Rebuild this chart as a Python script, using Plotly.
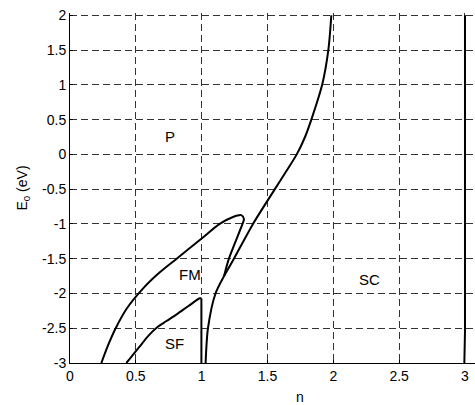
import plotly.graph_objects as go

# FM boundary: left branch rising to a peak, then the short branch turning back down
fm_n = [0.238, 0.288, 0.347, 0.43, 0.554, 0.68, 0.81, 1.0, 1.137, 1.238, 1.301, 1.321, 1.31, 1.207, 1.17]
fm_E = [-3.0, -2.75, -2.5, -2.22, -1.93, -1.7, -1.5, -1.21, -1.0, -0.9, -0.874, -0.93, -1.0, -1.5, -1.75]

# SF boundary
sf_n = [0.428, 0.53, 0.6, 0.66, 0.73, 0.81, 0.9, 0.985, 0.998]
sf_E = [-3.0, -2.76, -2.6, -2.49, -2.4, -2.3, -2.18, -2.07, -2.07]
sf_wall_n = [0.998, 0.998]
sf_wall_E = [-2.07, -3.0]

# SC boundary
sc_n = [1.03, 1.048, 1.105, 1.17, 1.245, 1.39, 1.556, 1.64, 1.722, 1.785, 1.833, 1.915, 1.962, 1.985]
sc_E = [-3.0, -2.5, -2.0, -1.75, -1.5, -1.0, -0.5, -0.25, 0.0, 0.25, 0.5, 1.0, 1.5, 2.0]

# right boundary at n = 3
rb_n = [2.995, 3.0, 3.0]
rb_E = [-3.0, -2.55, 2.0]

x_ticks = [0, 0.5, 1, 1.5, 2, 2.5, 3]
x_ticktext = ["0", "0.5", "1", "1.5", "2", "2.5", "3"]
y_ticks = [-3, -2.5, -2, -1.5, -1, -0.5, 0, 0.5, 1, 1.5, 2]
y_ticktext = ["-3", "-2.5", "-2", "-1.5", "-1", "-0.5", "0", "0.5", "1", "1.5", "2"]

labels = ["P", "FM", "SF", "SC"]
label_n = [0.757, 0.914, 0.795, 2.276]
label_E = [0.26, -1.73, -2.72, -1.8]

FONT = "Liberation Sans, Arial"
fig = go.Figure()
for xs, ys, shp in [(fm_n, fm_E, "spline"), (sf_n, sf_E, "spline"), (sf_wall_n, sf_wall_E, "linear"),
                    (sc_n, sc_E, "spline"), (rb_n, rb_E, "linear")]:
    fig.add_trace(go.Scatter(x=xs, y=ys, mode="lines",
                             line=dict(color="black", width=2, shape=shp, smoothing=0.8),
                             showlegend=False, hoverinfo="skip", cliponaxis=True))

for t, xv, yv in zip(labels, label_n, label_E):
    fig.add_annotation(x=xv, y=yv, text=t, showarrow=False,
                       font=dict(size=15, color="black", family=FONT))

fig.add_annotation(x=1.75, y=0, yref="paper", xref="x", text="n", showarrow=False,
                   yshift=-34, yanchor="middle",
                   font=dict(size=14, color="black", family=FONT))

axis_common = dict(showgrid=True, gridcolor="#333333", griddash="7px,4px", gridwidth=1,
                   showline=True, linecolor="black", linewidth=1,
                   ticks="inside", ticklen=3, tickcolor="black",
                   zeroline=False, mirror=False, automargin=False,
                   tickfont=dict(size=14, color="black", family=FONT))

fig.update_layout(
    width=475, height=405,
    margin=dict(l=70, r=0, t=12.6, b=42),
    plot_bgcolor="white", paper_bgcolor="white",
    xaxis=dict(range=[0, 3.076], tickvals=x_ticks, ticktext=x_ticktext, **axis_common),
    yaxis=dict(range=[-3, 2.033], tickvals=y_ticks, ticktext=y_ticktext,
               title=dict(text="E<sub>0</sub> (eV)", standoff=11,
                          font=dict(size=14, color="black", family=FONT)),
               **axis_common),
)

fig.write_html("out.html", config={"displayModeBar": False},
               post_script="document.body.style.margin='0';document.body.style.overflow='hidden';")
